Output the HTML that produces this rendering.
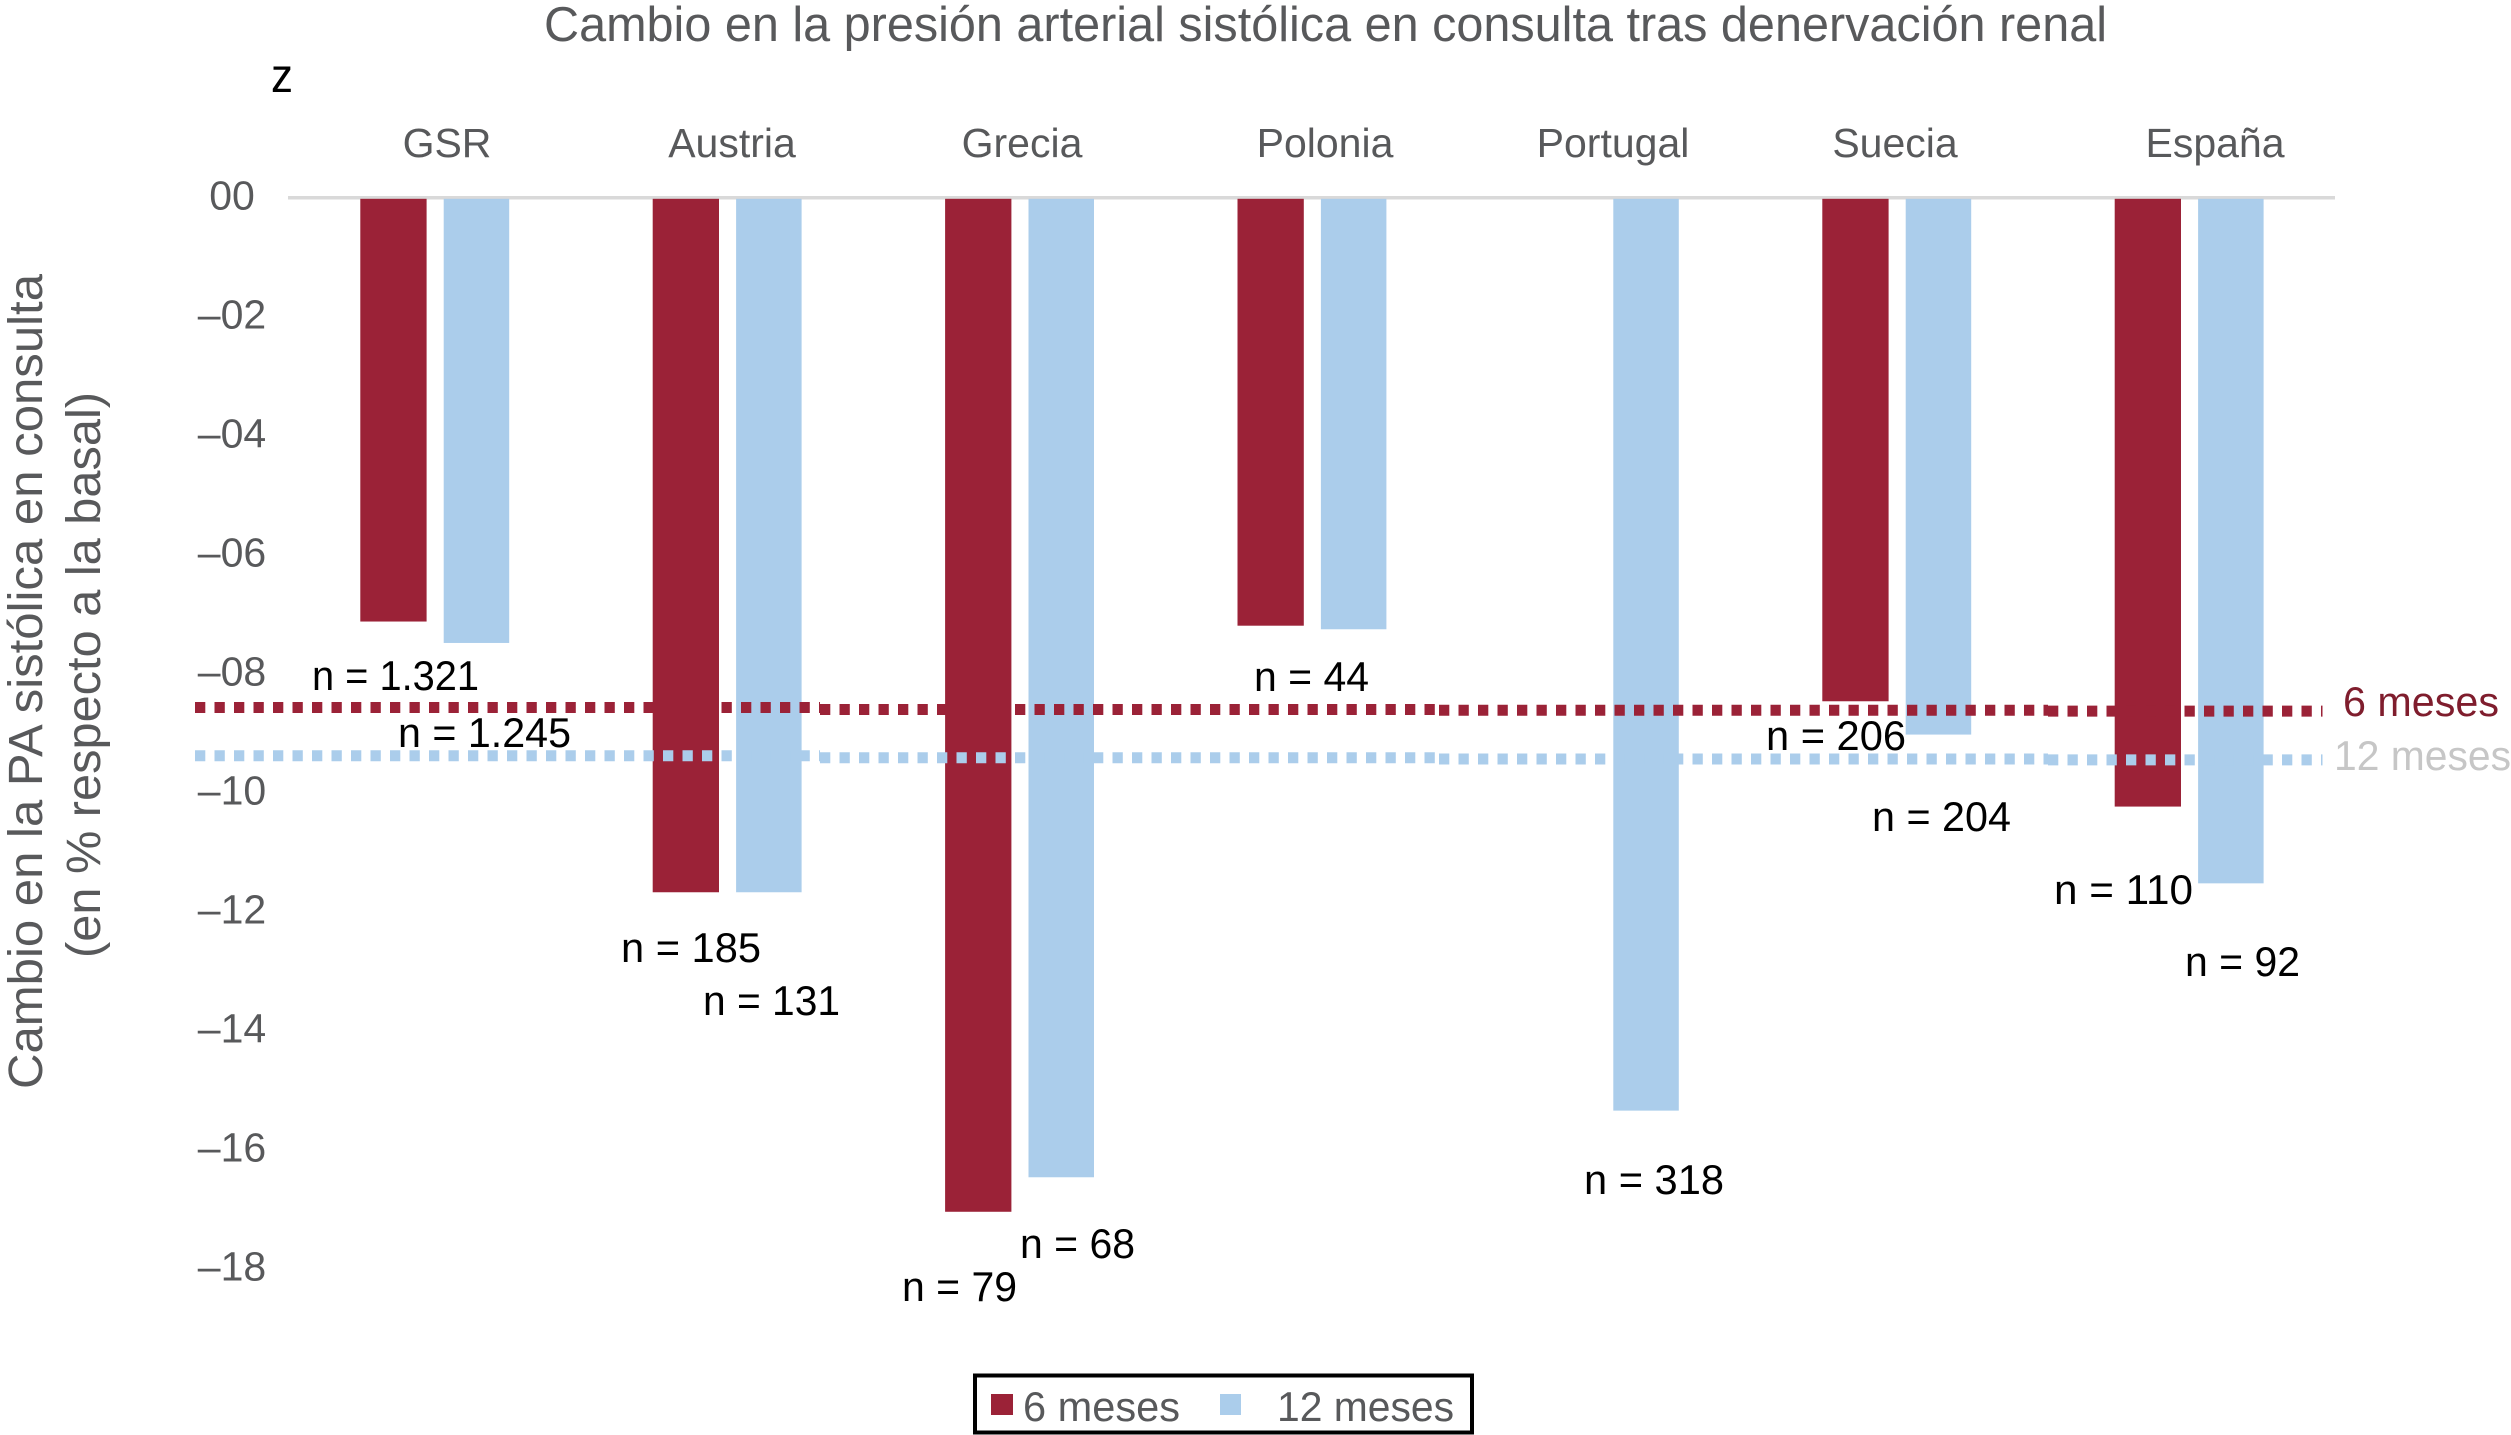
<!DOCTYPE html>
<html lang="es">
<head>
<meta charset="utf-8">
<title>Cambio en la presión arterial sistólica en consulta tras denervación renal</title>
<style>
html,body{margin:0;padding:0;background:#fff}
svg{display:block}
text{font-family:"Liberation Sans",sans-serif}
.grey{fill:#58595b}
.nlab{fill:#000;font-size:42px}
</style>
</head>
<body>
<svg id="chart" xmlns="http://www.w3.org/2000/svg" width="2511" height="1435" viewBox="0 0 2511 1435">
  <rect x="0" y="0" width="2511" height="1435" fill="#fff"/>
  <text class="grey" x="544" y="41" font-size="49" textLength="1563" lengthAdjust="spacingAndGlyphs">Cambio en la presión arterial sistólica en consulta tras denervación renal</text>
  <text x="271" y="92" font-size="48" fill="#000" textLength="22" lengthAdjust="spacingAndGlyphs">z</text>
  <text class="grey" transform="translate(42,1089) rotate(-90)" font-size="48" textLength="815" lengthAdjust="spacingAndGlyphs">Cambio en la PA sistólica en consulta</text>
  <text class="grey" transform="translate(100,958) rotate(-90)" font-size="48" textLength="566" lengthAdjust="spacingAndGlyphs">(en % respecto a la basal)</text>
  <g id="ticks"></g>
  <g id="cats"></g>
  <rect x="288" y="196" width="2047" height="3.5" fill="#d9d9d9"/>
  <g id="bars"></g>
  <g id="lines"></g>
  <g>
    <text class="nlab" x="312" y="690" textLength="167" lengthAdjust="spacingAndGlyphs">n = 1.321</text>
    <text class="nlab" x="398" y="747" textLength="173" lengthAdjust="spacingAndGlyphs">n = 1.245</text>
    <text class="nlab" x="621" y="962" textLength="140" lengthAdjust="spacingAndGlyphs">n = 185</text>
    <text class="nlab" x="703" y="1015" textLength="137" lengthAdjust="spacingAndGlyphs">n = 131</text>
    <text class="nlab" x="902" y="1301" textLength="115" lengthAdjust="spacingAndGlyphs">n = 79</text>
    <text class="nlab" x="1020" y="1258" textLength="115" lengthAdjust="spacingAndGlyphs">n = 68</text>
    <text class="nlab" x="1254" y="691" textLength="115" lengthAdjust="spacingAndGlyphs">n = 44</text>
    <text class="nlab" x="1584" y="1194" textLength="140" lengthAdjust="spacingAndGlyphs">n = 318</text>
    <text class="nlab" x="1766" y="750" textLength="140" lengthAdjust="spacingAndGlyphs">n = 206</text>
    <text class="nlab" x="1872" y="831" textLength="139" lengthAdjust="spacingAndGlyphs">n = 204</text>
    <text class="nlab" x="2054" y="904" textLength="139" lengthAdjust="spacingAndGlyphs">n = 110</text>
    <text class="nlab" x="2185" y="976" textLength="115" lengthAdjust="spacingAndGlyphs">n = 92</text>
  </g>
  <text x="2343" y="716" font-size="42" fill="#7f1d2d" textLength="156" lengthAdjust="spacingAndGlyphs">6 meses</text>
  <text x="2334" y="770" font-size="42" fill="#c6c6c6" textLength="177" lengthAdjust="spacingAndGlyphs">12 meses</text>
  <g>
    <rect x="975" y="1375.5" width="497" height="57" fill="#fff" stroke="#000" stroke-width="4"/>
    <rect x="991" y="1394" width="22" height="21" fill="#9b2237"/>
    <text class="grey" x="1023" y="1421" font-size="42" textLength="157" lengthAdjust="spacingAndGlyphs">6 meses</text>
    <rect x="1220" y="1394" width="21" height="21" fill="#abcdeb"/>
    <text class="grey" x="1277" y="1421" font-size="42" textLength="177" lengthAdjust="spacingAndGlyphs">12 meses</text>
  </g>
</svg>
<script>
var categories = ["GSR", "Austria", "Grecia", "Polonia", "Portugal", "Suecia", "España"];
var values6 = [-7.13, -11.68, -17.05, -7.2, null, -8.47, -10.24];
var values12 = [-7.49, -11.68, -16.47, -7.26, -15.35, -9.03, -11.53];
var tickValues = [0, -2, -4, -6, -8, -10, -12, -14, -16, -18];
var tickLabels = ["00", "–02", "–04", "–06", "–08", "–10", "–12", "–14", "–16", "–18"];
var average6 = [-8.575, -8.608, -8.62, -8.635];
var average12 = [-9.385, -9.42, -9.44, -9.455];

var NS = "http://www.w3.org/2000/svg";
var catLabelCenters = [447, 732, 1022, 1325, 1613, 1895, 2215];
function yScale(v) { return 197.3 - v * 59.5; }
function groupX(i) { return 360.3 + 292.4 * i; }
function make(tag, parent, attrs) {
  var el = document.createElementNS(NS, tag);
  for (var k in attrs) { el.setAttribute(k, attrs[k]); }
  parent.appendChild(el);
  return el;
}

var tickGroup = document.getElementById("ticks");
tickValues.forEach(function (v, i) {
  var t = make("text", tickGroup, { x: 232, y: yScale(v) + 12, "font-size": 41, "text-anchor": "middle", fill: "#58595b" });
  
  
  t.textContent = tickLabels[i];
});

var catGroup = document.getElementById("cats");
categories.forEach(function (c, i) {
  var t = make("text", catGroup, { x: catLabelCenters[i], y: 157, "font-size": 41, "text-anchor": "middle", fill: "#58595b" });
  
  
  t.textContent = c;
});

var barGroup = document.getElementById("bars");
function drawBar(value, x, w, fill, name) {
  if (value === null) { return; }
  var top = yScale(0) + 1.5;
  var r = make("rect", barGroup, { x: x, y: top, width: w, height: yScale(value) - top, fill: fill });
  
  
}
categories.forEach(function (c, i) {
  drawBar(values6[i], groupX(i), 66.3, "#9b2237", 'bar-6-meses');
  drawBar(values12[i], groupX(i) + 83.4, 65.5, "#abcdeb", 'bar-12-meses');
});

var lineGroup = document.getElementById("lines");
var segmentStarts = [195, 820, 1439, 2048, 2322.5];
function drawAverage(series, color, name) {
  series.forEach(function (v, i) {
    var l = make("line", lineGroup, {
      x1: segmentStarts[i], x2: segmentStarts[i + 1], y1: yScale(v), y2: yScale(v),
      stroke: color, "stroke-width": 11, "stroke-dasharray": "10.3 9.2"
    });
    
    
  });
}
drawAverage(average12, "#abcdeb", 'average-line-12-meses');
drawAverage(average6, "#9b2237", 'average-line-6-meses');
</script>
</body>
</html>
